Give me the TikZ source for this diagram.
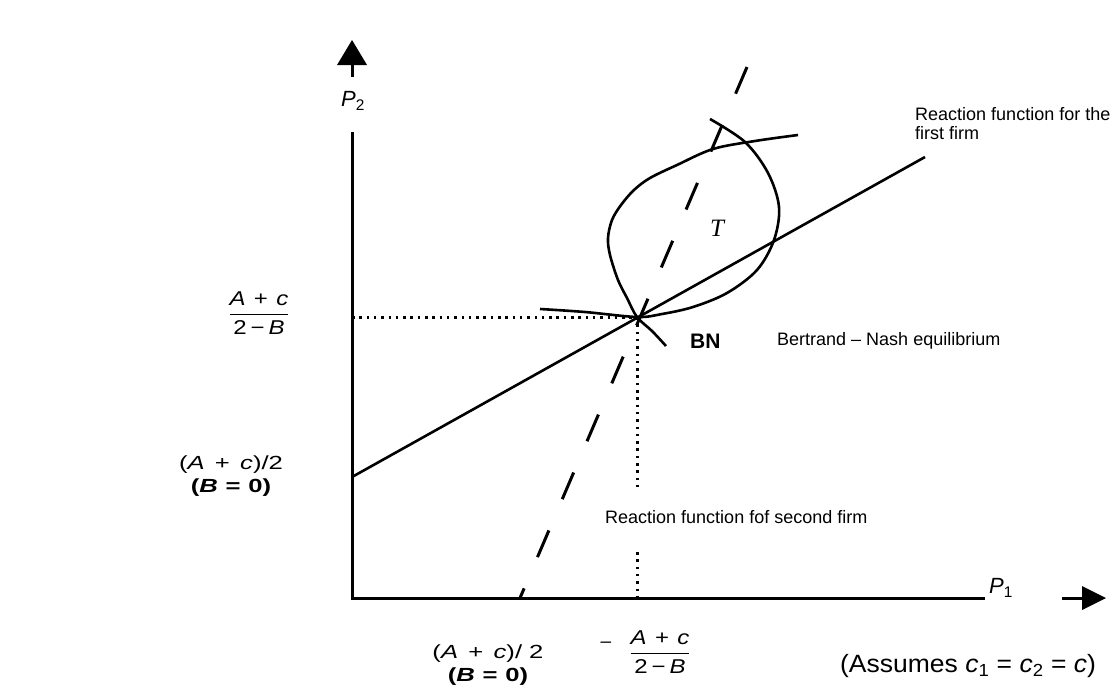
\documentclass[tikz,border=0pt]{standalone}
\usepackage{fontspec}
\usepackage{graphicx}
\setmainfont{Liberation Sans}
\newfontfamily\serifit{Liberation Serif}
\newcommand\hstr[1]{\scalebox{1.35}[1]{#1}}
\newcommand\fstr[1]{\scalebox{1.2}[1]{#1}}
\newcommand\gapp{\hspace{0.4em}}
\newcommand\fgap{\hspace{0.35em}}
\tikzset{
  ax/.style={line width=3pt},
  ln/.style={line width=2.6pt, line join=round},
  dotl/.style={line width=3pt, dash pattern=on 2.5pt off 4.8pt},
  dsh/.style={line width=3pt, dash pattern=on 29pt off 34pt},
  lbl/.style={inner sep=0pt, font=\fontsize{18}{19}\selectfont},
  mlbl/.style={inner sep=0pt, font=\fontsize{19}{23}\selectfont, align=center},
  flbl/.style={inner sep=0pt, font=\fontsize{20}{22}\selectfont},
}
\begin{document}
\begin{tikzpicture}[x=1pt,y=-1pt]
\useasboundingbox (0,0) rectangle (1115,699);
% coordinates
\coordinate (O) at (352,598);
\coordinate (Ytop) at (352,132);
\coordinate (Xend) at (985,598);
\coordinate (BN) at (637,317);
\coordinate (R1s) at (352,477);
\coordinate (R1e) at (925,157);
\coordinate (Ylev) at (352,317);
\coordinate (Xd1) at (637,488);
\coordinate (Xd2) at (637,552);
\coordinate (Xfoot) at (637,598);
\coordinate (R2s) at (747,67);
\coordinate (R2e) at (520,598);
% axes
\draw[ax] (Ytop) -- (O) -- (Xend);
% axis arrows
\fill (337,65) -- (352,40) -- (367,65) -- cycle;
\draw[ax] (352,63) -- (352,77);
\fill (1082,586) -- (1106,598) -- (1082,610) -- cycle;
\draw[ax] (1062,598) -- (1084,598);
% reaction functions
\draw[ln] (R1s) -- (R1e);
\draw[dsh] (R2s) -- (R2e);
% dotted guides
\draw[dotl] (Ylev) -- (BN);
\draw[dotl] (BN) -- (Xd1);
\draw[dotl] (Xd2) -- (Xfoot);
% lens curves
\draw[ln] plot[smooth, tension=0.55] coordinates {(666,346) (652,331) (637,317) (627,298) (618,280) (610,255) (608,238) (612,220) (621,205) (634,190) (650,178) (677,165) (713,149) (755,141) (798,135)};
\draw[ln] plot[smooth, tension=0.55] coordinates {(540,309) (585,312) (637,317) (662,314) (693,307) (727,293) (757,270) (774,240) (779,207) (768,173) (745,142) (710,119)};
% labels
\node[inner sep=0pt, font=\fontsize{22}{24}\selectfont] (P2) at (353,101) {\textit{P}\textsubscript{2}};
\node[inner sep=0pt, font=\fontsize{22}{24}\selectfont] (P1) at (1001,588) {\textit{P}\textsubscript{1}};
\node[inner sep=0pt, font=\serifit\itshape\fontsize{25}{28}\selectfont] (T) at (717,228) {T};
\node[lbl, anchor=west, align=left] (rf1) at (915,124) {Reaction function for the\\first firm};
\node[lbl, anchor=west] (rf2) at (605,517) {Reaction function fof second firm};
\node[lbl, anchor=west, font=\fontsize{21}{22}\selectfont\bfseries] (BNl) at (690,341) {BN};
\node[lbl, anchor=west] (bne) at (777,341) {Bertrand – Nash equilibrium};
\node[flbl] (yfrac) at (259,313) {\fstr{$\displaystyle\frac{\mbox{\textit{A}\fgap+\fgap\textit{c}}}{\mbox{2\,−\,\textit{B}}}$}};
\node[mlbl] (yint) at (231,476) {\hstr{(\textit{A}\gapp+\gapp\textit{c})/2}\\ \hstr{\bfseries(\textit{B}\hspace{.3em}=\hspace{.3em}0)}};
\node[mlbl] (xint) at (488,665) {\hstr{(\textit{A}\gapp+\gapp\textit{c})/ 2}\\ \hstr{\bfseries(\textit{B}\hspace{.3em}=\hspace{.3em}0)}};
\node[mlbl] (dash) at (606,645) {–};
\node[flbl] (xfrac) at (660,652) {\fstr{$\displaystyle\frac{\mbox{\textit{A}\fgap+\fgap\textit{c}}}{\mbox{2\,−\,\textit{B}}}$}};
\node[inner sep=0pt, font=\fontsize{25}{28}\selectfont] (ass) at (968,666) {\scalebox{1.06}[1]{(Assumes \textit{c}\textsubscript{1} = \textit{c}\textsubscript{2} = \textit{c})}};
\end{tikzpicture}
\end{document}
